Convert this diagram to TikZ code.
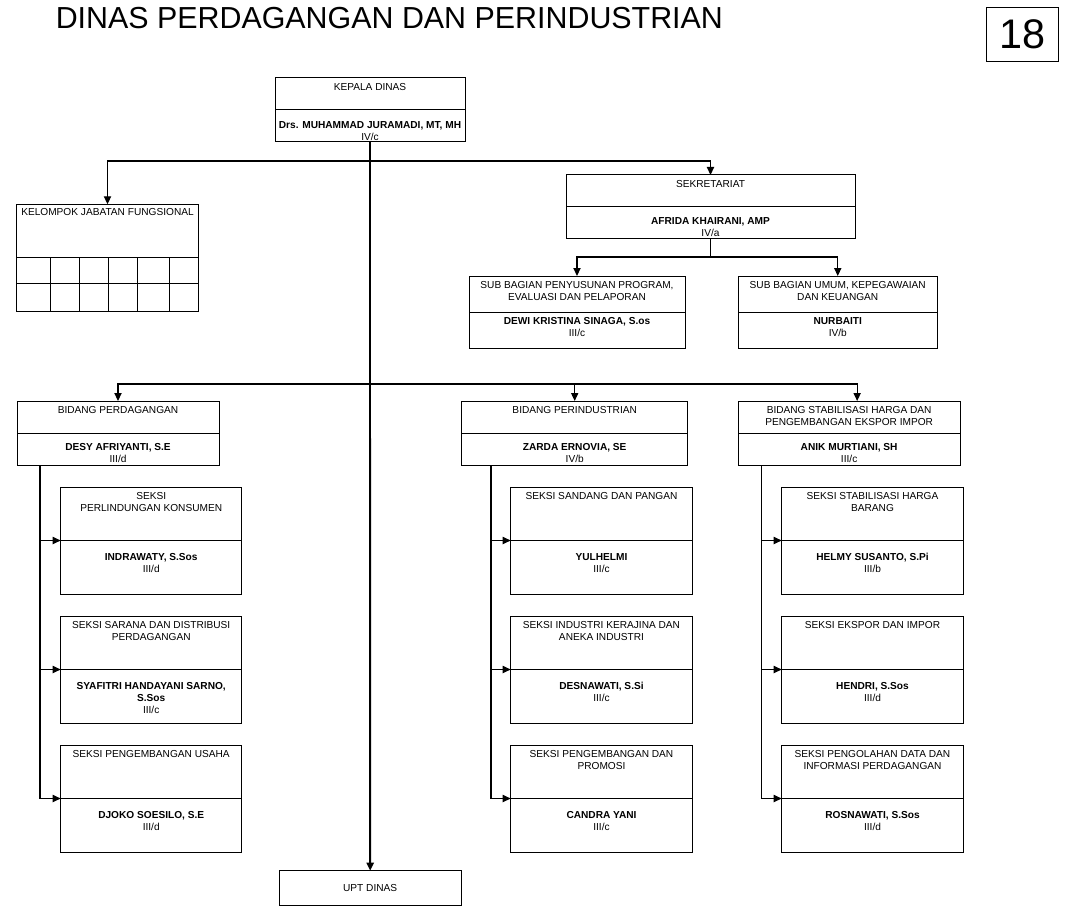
\documentclass[tikz,border=0pt]{standalone}
\usepackage{fontspec}
\setmainfont{Liberation Sans}
\usetikzlibrary{arrows.meta,calc}
\tikzset{
  unit/.style={draw, line width=0.75pt, inner sep=0pt, outer sep=0pt},
  ttl/.style={inner sep=0pt, align=center, font=\fontsize{7.6}{9}\selectfont},
  nm/.style={inner sep=0pt, align=center, font=\fontsize{7.6}{9}\selectfont},
  conn/.style={line width=0.9pt},
  trunk/.style={line width=1.4pt},
  arr/.style={conn, -{Triangle[length=6pt,width=5.4pt]}},
  tarr/.style={trunk, -{Triangle[length=6pt,width=5.4pt]}},
  grid/.style={line width=0.75pt},
}
\newcommand\ounit[8]{%
  \node[unit, minimum width={(#4-#2)*0.75pt}, minimum height={(#5-#3)*0.75pt}, anchor=north west] (#1) at (#2,#3) {};
  \draw[line width=0.75pt] (#1.west) -- (#1.east);
  \node[ttl, anchor=north] (#1t) at ($(#1.north)+(0,5.3)$) {#6};
  \node[nm, anchor=north] (#1n) at ($(#1.center)+(0,#7-3.7)$) {#8};
}
\begin{document}
\begin{tikzpicture}[x=0.75pt,y=-0.75pt]
\useasboundingbox (0,0) rectangle (1070,916);
% title
\node[inner sep=0pt, anchor=west, font=\fontsize{22.8}{27}\selectfont] (title) at (55.5,18.5) {DINAS PERDAGANGAN DAN PERINDUSTRIAN};
\node[unit, minimum width={72*0.75pt}, minimum height={54*0.75pt}, font=\fontsize{31}{36}\selectfont] (num) at (1022,34.5) {18};

% top
\ounit{kep}{275}{78}{465}{142}{KEPALA DINAS}{15}{\textbf{Drs. MUHAMMAD JURAMADI, MT, MH}\\IV/c}
\ounit{sek}{566}{175}{855}{239}{SEKRETARIAT}{13.7}{\textbf{AFRIDA KHAIRANI, AMP}\\IV/a}
\ounit{sub1}{469}{276}{685}{348}{SUB BAGIAN PENYUSUNAN PROGRAM,\\EVALUASI DAN PELAPORAN}{9}{\textbf{DEWI KRISTINA SINAGA, S.os}\\III/c}
\ounit{sub2}{738.5}{276}{937}{348}{SUB BAGIAN UMUM, KEPEGAWAIAN\\DAN KEUANGAN}{9}{\textbf{NURBAITI}\\IV/b}

% kelompok jabatan fungsional
\node[unit, minimum width={181.6*0.75pt}, minimum height={107.4*0.75pt}, anchor=north west] (kel) at (16.7,204.3) {};
\node[ttl, anchor=north] (kelt) at (107.5,208.6) {KELOMPOK JABATAN FUNGSIONAL};
\draw[grid] (16.7,257.7) -- (198.3,257.7);
\draw[grid] (16.7,283.3) -- (198.3,283.3);
\foreach \gx in {50.7,79.3,108.3,137.7,169.3}{\draw[grid] (\gx,257.7) -- (\gx,311.7);}

% bidang
\ounit{b1}{17}{401}{219}{465}{BIDANG PERDAGANGAN}{14}{\textbf{DESY AFRIYANTI, S.E}\\III/d}
\ounit{b2}{461.7}{401}{687.7}{465}{BIDANG PERINDUSTRIAN}{14}{\textbf{ZARDA ERNOVIA, SE}\\IV/b}
\ounit{b3}{738.3}{401}{960}{465}{BIDANG STABILISASI HARGA DAN\\PENGEMBANGAN EKSPOR IMPOR}{14}{\textbf{ANIK MURTIANI, SH}\\III/c}

% seksi left
\ounit{s11}{60.7}{487}{241.7}{594}{SEKSI\\PERLINDUNGAN KONSUMEN}{16}{\textbf{INDRAWATY, S.Sos}\\III/d}
\ounit{s12}{60.7}{616}{241.7}{723}{SEKSI SARANA DAN DISTRIBUSI\\PERDAGANGAN}{16}{\textbf{SYAFITRI HANDAYANI SARNO,}\\\textbf{S.Sos}\\III/c}
\ounit{s13}{60.7}{745}{241.7}{852}{SEKSI PENGEMBANGAN USAHA}{16}{\textbf{DJOKO SOESILO, S.E}\\III/d}
% seksi middle
\ounit{s21}{510.7}{487}{692.3}{594}{SEKSI SANDANG DAN PANGAN}{16}{\textbf{YULHELMI}\\III/c}
\ounit{s22}{510.7}{616}{692.3}{723}{SEKSI INDUSTRI KERAJINA DAN\\ANEKA INDUSTRI}{16}{\textbf{DESNAWATI, S.Si}\\III/c}
\ounit{s23}{510.7}{745}{692.3}{852}{SEKSI PENGEMBANGAN DAN\\PROMOSI}{16}{\textbf{CANDRA YANI}\\III/c}
% seksi right
\ounit{s31}{781.7}{487}{963.3}{594}{SEKSI STABILISASI HARGA\\BARANG}{16}{\textbf{HELMY SUSANTO, S.Pi}\\III/b}
\ounit{s32}{781.7}{616}{963.3}{723}{SEKSI EKSPOR DAN IMPOR}{16}{\textbf{HENDRI, S.Sos}\\III/d}
\ounit{s33}{781.7}{745}{963.3}{852}{SEKSI PENGOLAHAN DATA DAN\\INFORMASI PERDAGANGAN}{16}{\textbf{ROSNAWATI, S.Sos}\\III/d}

% UPT
\node[unit, minimum width={181.7*0.75pt}, minimum height={35*0.75pt}, anchor=north west, font=\fontsize{7.6}{9}\selectfont] (upt) at (279.3,870.7) {UPT DINAS};

% connectors
\coordinate (j1) at (370,161);
\coordinate (j2) at (370,384);
\coordinate (j3) at (710.5,257);
\draw[tarr] (kep.south) -- (upt.north);
\draw[arr] (j1) -| (kel.north);
\draw[arr] (j1) -| (sek.north);
\draw[trunk] (sek.south) -- (j3);
\draw[arr] (j3) -| (sub1.north);
\draw[arr] (j3) -| (sub2.north);
\draw[arr] (j2) -| (b1.north);
\draw[arr] (j2) -| (b2.north);
\draw[arr] (j2) -| ([xshift=6pt]b3.north);

\coordinate (b1s) at (40,465);
\coordinate (b2s) at (490.7,465);
\coordinate (b3s) at (761.5,465);
\foreach \b/\c in {b1s/s1,b2s/s2,b3s/s3}{
  \draw[trunk] (\b) -- (\b |- \c3.west);
  \draw[arr] (\b |- \c1.west) -- (\c1.west);
  \draw[arr] (\b |- \c2.west) -- (\c2.west);
  \draw[arr] (\b |- \c3.west) -- (\c3.west);
}
\end{tikzpicture}
\end{document}
